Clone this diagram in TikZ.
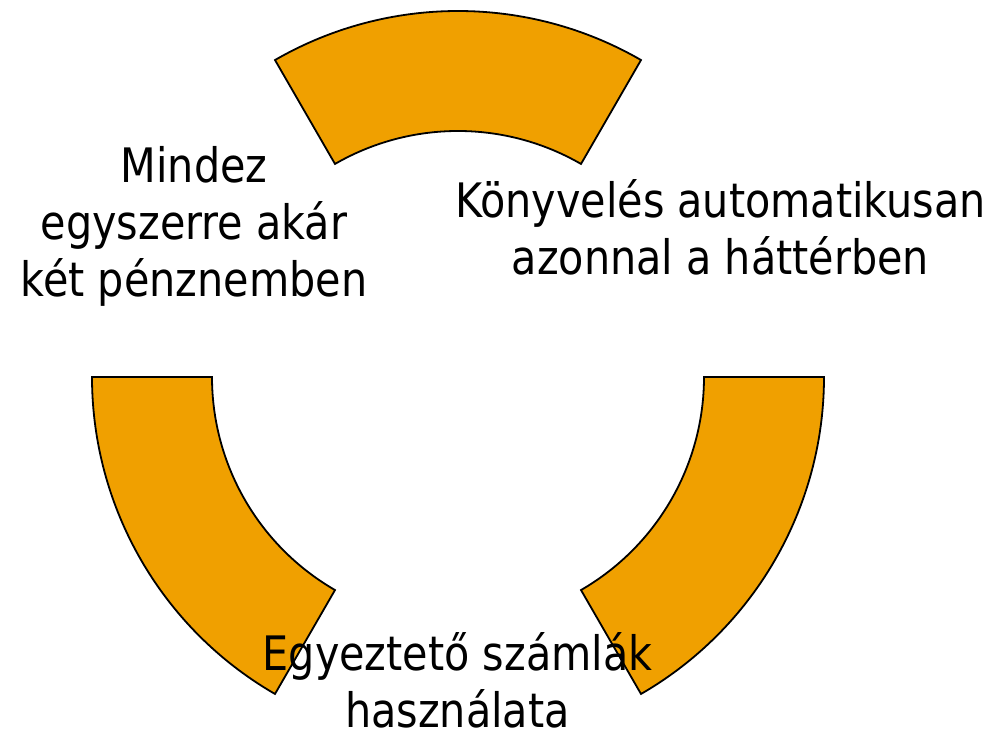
\documentclass[tikz,border=0pt]{standalone}
\usepackage{fontspec}
\newfontfamily\tahlike[FakeStretch=0.87]{DejaVu Sans}
\definecolor{ringorange}{RGB}{240,160,0}
\begin{document}
\begin{tikzpicture}[x=1pt,y=1pt,
  sector/.style={draw=black,fill=ringorange,line width=1.8pt,line join=miter},
  label/.style={inner sep=0pt,align=center,anchor=base,font=\tahlike\fontsize{47.5}{57}\selectfont}]
\useasboundingbox (0,0) rectangle (996,734);
\coordinate (c) at (458,357);
% top sector
\draw[sector] ([shift={(60:366)}]c) arc[start angle=60,end angle=120,radius=366]
  -- ([shift={(120:246)}]c) arc[start angle=120,end angle=60,radius=246] -- cycle;
% left sector
\draw[sector] ([shift={(180:366)}]c) arc[start angle=180,end angle=240,radius=366]
  -- ([shift={(240:246)}]c) arc[start angle=240,end angle=180,radius=246] -- cycle;
% right sector
\draw[sector] ([shift={(300:366)}]c) arc[start angle=300,end angle=360,radius=366]
  -- ([shift={(360:246)}]c) arc[start angle=360,end angle=300,radius=246] -- cycle;
\node[label] (left) at (194,437) {Mindez\\egyszerre akár\\két pénznemben};
\node[label] (right) at (720.5,459) {Könyvelés automatikusan\\azonnal a háttérben};
\node[label] (bottom) at (457.5,7) {Egyeztető számlák\\használata};
\end{tikzpicture}
\end{document}
